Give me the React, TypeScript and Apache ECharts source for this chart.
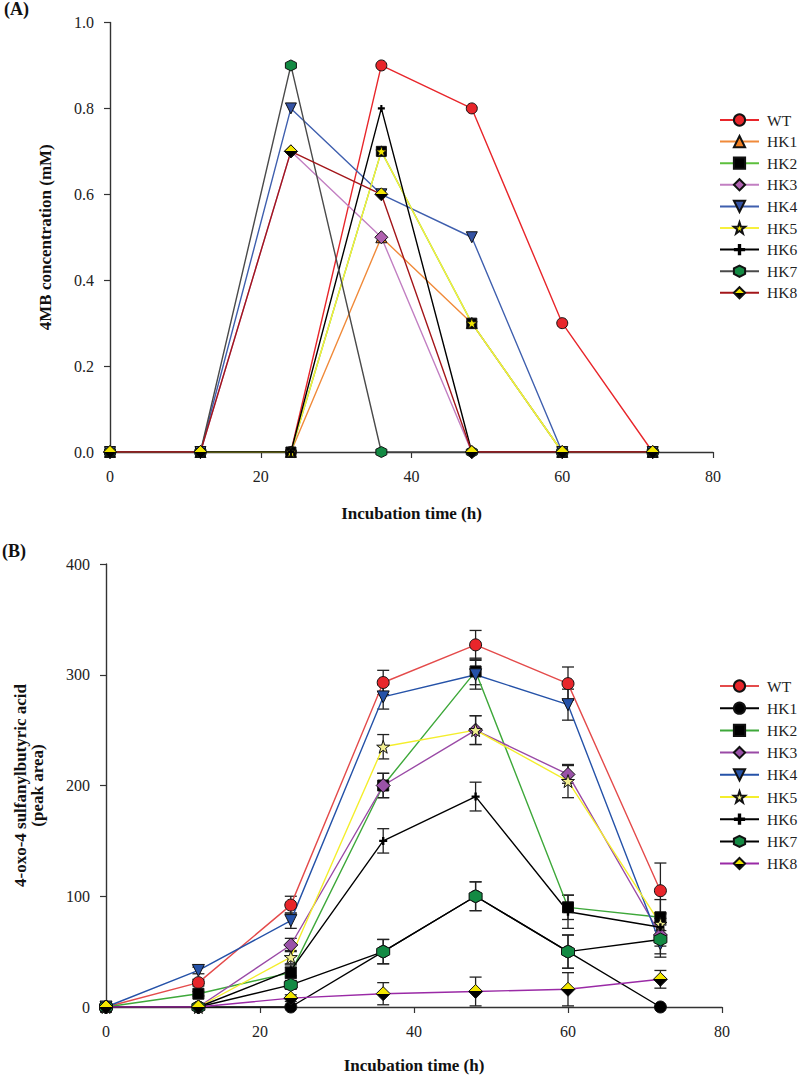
import React, { useEffect, useRef } from 'react';
import * as echarts from 'echarts';

// ---------- shared ----------
const hours = [0, 12, 24, 36, 48, 60, 72];
const xTicks = [0, 20, 40, 60, 80];
const seriesNames = ['WT', 'HK1', 'HK2', 'HK3', 'HK4', 'HK5', 'HK6', 'HK7', 'HK8'];

// ---------- panel (A): 4MB concentration (mM) ----------
const aTicks = [0, 0.2, 0.4, 0.6, 0.8, 1.0];
const aWT = [0, 0, 0, 0.9, 0.8, 0.3, 0];
const aHK1 = [0, 0, 0, 0.5, 0.3, 0, 0];
const aHK2 = [0, 0, 0, 0.7, 0.3, 0, 0];
const aHK3 = [0, 0, 0.7, 0.5, 0, 0, 0];
const aHK4 = [0, 0, 0.8, 0.6, 0.5, 0, 0];
const aHK5 = [0, 0, 0, 0.7, 0.3, 0, 0];
const aHK6 = [0, 0, 0, 0.8, 0, 0, 0];
const aHK7 = [0, 0, 0.9, 0, 0, 0, 0];
const aHK8 = [0, 0, 0.7, 0.6, 0, 0, 0];

// ---------- panel (B): 4-oxo-4 sulfanylbutyric acid (peak area) ----------
const bTicks = [0, 100, 200, 300, 400];
const bWT = [0, 22, 92, 293, 327, 292, 105];
const bHK1 = [0, 0, 0, 50, 100, 50, 0];
const bHK2 = [0, 12, 31, 200, 303, 90, 81];
const bHK3 = [0, 0, 56, 200, 250, 210, 65];
const bHK4 = [0, 33, 78, 280, 300, 273, 57];
const bHK5 = [0, 0, 45, 235, 250, 204, 75];
const bHK6 = [0, 0, 33, 150, 190, 86, 72];
const bHK7 = [0, 0, 20, 50, 100, 50, 61];
const bHK8 = [0, 0, 8, 12, 14, 16, 25];

// error bars (±) for panel B
const eWT = [0, 3, 8, 11, 13, 15, 25];
const eHK1 = [0, 0, 0, 11, 13, 15, 0];
const eHK2 = [0, 2, 5, 11, 12, 11, 16];
const eHK3 = [0, 0, 6, 11, 13, 8, 10];
const eHK4 = [0, 3, 7, 11, 13, 14, 12];
const eHK5 = [0, 0, 6, 11, 13, 15, 10];
const eHK6 = [0, 0, 5, 11, 13, 15, 12];
const eHK7 = [0, 0, 4, 11, 13, 15, 13];
const eHK8 = [0, 0, 3, 10, 13, 15, 8];

const FONT = '"Liberation Serif", "Times New Roman", serif';

const STAR =
  'path://M50,0 L61.8,35.1 L98.9,35.5 L69.1,57.7 L80.3,93.1 L50,71.7 L19.7,93.1 L30.9,57.7 L1.1,35.5 L38.2,35.1 Z';
const PLUS = 'path://M3.5,0 L6.5,0 L6.5,3.5 L10,3.5 L10,6.5 L6.5,6.5 L6.5,10 L3.5,10 L3.5,6.5 L0,6.5 L0,3.5 L3.5,3.5 Z';
const HEX = 'path://M5,0 L9.33,2.5 L9.33,7.5 L5,10 L0.67,7.5 L0.67,2.5 Z';
const TRI_DOWN = 'path://M0,0 L10,0 L5,8.66 Z';

const halfDiamond = new echarts.graphic.LinearGradient(0, 0, 0, 1, [
  { offset: 0, color: '#f2e600' },
  { offset: 0.5, color: '#f2e600' },
  { offset: 0.5, color: '#000000' },
  { offset: 1, color: '#000000' },
]);

type Style = { line: string; fill: any; symbol: string; size: number };

const stylesA: Style[] = [
  { line: '#e8262b', fill: '#e8262b', symbol: 'circle', size: 11 },
  { line: '#f08a3a', fill: '#f07f22', symbol: 'triangle', size: 11 },
  { line: '#5cbf3c', fill: '#000000', symbol: 'rect', size: 10 },
  { line: '#c27fc2', fill: '#b062b0', symbol: 'diamond', size: 13 },
  { line: '#3f5fae', fill: '#3553a4', symbol: TRI_DOWN, size: 11 },
  { line: '#f7f03c', fill: '#f2e600', symbol: STAR, size: 11 },
  { line: '#000000', fill: '#000000', symbol: PLUS, size: 7 },
  { line: '#4a4a4a', fill: '#138a43', symbol: HEX, size: 11 },
  { line: '#a3161a', fill: halfDiamond, symbol: 'diamond', size: 13 },
];

const stylesB: Style[] = [
  { line: '#e44b4b', fill: '#e8262b', symbol: 'circle', size: 12 },
  { line: '#000000', fill: '#000000', symbol: 'circle', size: 12 },
  { line: '#3ea83a', fill: '#000000', symbol: 'rect', size: 11 },
  { line: '#9a4aa6', fill: '#9a52a8', symbol: 'diamond', size: 14 },
  { line: '#2552a8', fill: '#2552a8', symbol: TRI_DOWN, size: 12 },
  { line: '#f4ee2c', fill: '#f3ef90', symbol: STAR, size: 13 },
  { line: '#000000', fill: '#000000', symbol: PLUS, size: 8 },
  { line: '#000000', fill: '#138a43', symbol: HEX, size: 13 },
  { line: '#9a2aa6', fill: halfDiamond, symbol: 'diamond', size: 14 },
];

const dataA = [aWT, aHK1, aHK2, aHK3, aHK4, aHK5, aHK6, aHK7, aHK8];
const dataB = [bWT, bHK1, bHK2, bHK3, bHK4, bHK5, bHK6, bHK7, bHK8];
const errB = [eWT, eHK1, eHK2, eHK3, eHK4, eHK5, eHK6, eHK7, eHK8];

function lineSeries(values: number[][], styles: Style[]) {
  return values.map((vals, i) => ({
    type: 'line',
    name: seriesNames[i],
    data: vals.map((v, k) => [hours[k], v]),
    symbol: styles[i].symbol,
    symbolSize: styles[i].size,
    showAllSymbol: true,
    z: 3,
    lineStyle: { color: styles[i].line, width: 1.4 },
    itemStyle: {
      color: styles[i].fill,
      borderColor: '#111',
      borderWidth: styles[i].symbol === PLUS ? 0 : 1,
    },
    emphasis: { disabled: true },
  }));
}

function axisCommon(ticks: number[], decimals: number) {
  return {
    type: 'value',
    min: ticks[0],
    max: ticks[ticks.length - 1],
    interval: ticks[1] - ticks[0],
    splitLine: { show: false },
    axisLine: { show: true, onZero: false, lineStyle: { color: '#333', width: 1.4 } },
    axisTick: { show: true, inside: false, length: 6, lineStyle: { color: '#333', width: 1.2 } },
    axisLabel: {
      color: '#222',
      fontFamily: FONT,
      fontSize: 16,
      margin: 16,
      formatter: (v: number) => v.toFixed(decimals),
    },
    nameTextStyle: { fontFamily: FONT, fontWeight: 'bold', fontSize: 17, color: '#111' },
  };
}

function legendOpt(top: number, gap: number) {
  return {
    orient: 'vertical',
    left: 714,
    top,
    itemWidth: 39,
    itemHeight: 14,
    itemGap: gap,
    data: seriesNames,
    selectedMode: false,
    textStyle: { fontFamily: FONT, fontSize: 15.5, color: '#222', lineHeight: 16, padding: [0, 0, 0, 3] },
  };
}

function optionA() {
  return {
    animation: false,
    title: {
      text: '(A)',
      left: 4,
      top: 0,
      padding: 0,
      textStyle: { fontFamily: FONT, fontWeight: 'bold', fontSize: 18, color: '#111' },
    },
    grid: { left: 110, top: 22.5, width: 603, height: 429.5 },
    xAxis: {
      ...axisCommon(xTicks, 0),
      name: 'Incubation time (h)',
      nameLocation: 'middle',
      nameGap: 53,
    },
    yAxis: {
      ...axisCommon(aTicks, 1),
      name: '4MB concentration (mM)',
      nameLocation: 'middle',
      nameGap: 56,
    },
    legend: legendOpt(107, 5.6),
    series: lineSeries(dataA, stylesA),
  };
}

function optionB() {
  const errData: number[][] = [];
  errB.forEach((arr, i) => {
    arr.forEach((e, k) => {
      if (e > 0) errData.push([hours[k], dataB[i][k], e]);
    });
  });
  return {
    animation: false,
    title: {
      text: '(B)',
      left: 2,
      top: 2,
      padding: 0,
      textStyle: { fontFamily: FONT, fontWeight: 'bold', fontSize: 18, color: '#111' },
    },
    grid: { left: 106, top: 24, width: 616, height: 443 },
    xAxis: {
      ...axisCommon(xTicks, 0),
      name: 'Incubation time (h)',
      nameLocation: 'middle',
      nameGap: 50,
    },
    yAxis: {
      ...axisCommon(bTicks, 0),
      name: '4-oxo-4 sulfanylbutyric acid\n(peak area)',
      nameLocation: 'middle',
      nameGap: 60,
      nameTextStyle: { fontFamily: FONT, fontWeight: 'bold', fontSize: 17, color: '#111', lineHeight: 17 },
    },
    legend: legendOpt(133, 6.2),
    series: [
      {
        type: 'custom',
        z: 2,
        silent: true,
        data: errData,
        encode: { x: 0, y: 1 },
        renderItem: (_params: any, api: any) => {
          const x = api.value(0);
          const y = api.value(1);
          const e = api.value(2);
          const top = api.coord([x, y + e]);
          const bot = api.coord([x, Math.max(0, y - e)]);
          const hw = 6;
          const st = { stroke: '#222', lineWidth: 1.3 };
          return {
            type: 'group',
            children: [
              { type: 'line', shape: { x1: top[0], y1: top[1], x2: bot[0], y2: bot[1] }, style: st },
              { type: 'line', shape: { x1: top[0] - hw, y1: top[1], x2: top[0] + hw, y2: top[1] }, style: st },
              { type: 'line', shape: { x1: bot[0] - hw, y1: bot[1], x2: bot[0] + hw, y2: bot[1] }, style: st },
            ],
          };
        },
      },
      ...lineSeries(dataB, stylesB),
    ],
  };
}

export default function App() {
  const refA = useRef<HTMLDivElement>(null);
  const refB = useRef<HTMLDivElement>(null);

  useEffect(() => {
    document.body.style.margin = '0';
    const cA = echarts.init(refA.current!, null, { renderer: 'svg' });
    const cB = echarts.init(refB.current!, null, { renderer: 'svg' });
    cA.setOption(optionA() as any);
    cB.setOption(optionB() as any);
    return () => {
      cA.dispose();
      cB.dispose();
    };
  }, []);

  return (
    <div style={{ position: 'relative', width: 800, height: 1084, background: '#fff' }}>
      <div ref={refA} style={{ position: 'absolute', left: 0, top: 0, width: 800, height: 540 }} />
      <div ref={refB} style={{ position: 'absolute', left: 0, top: 540, width: 800, height: 544 }} />
    </div>
  );
}
